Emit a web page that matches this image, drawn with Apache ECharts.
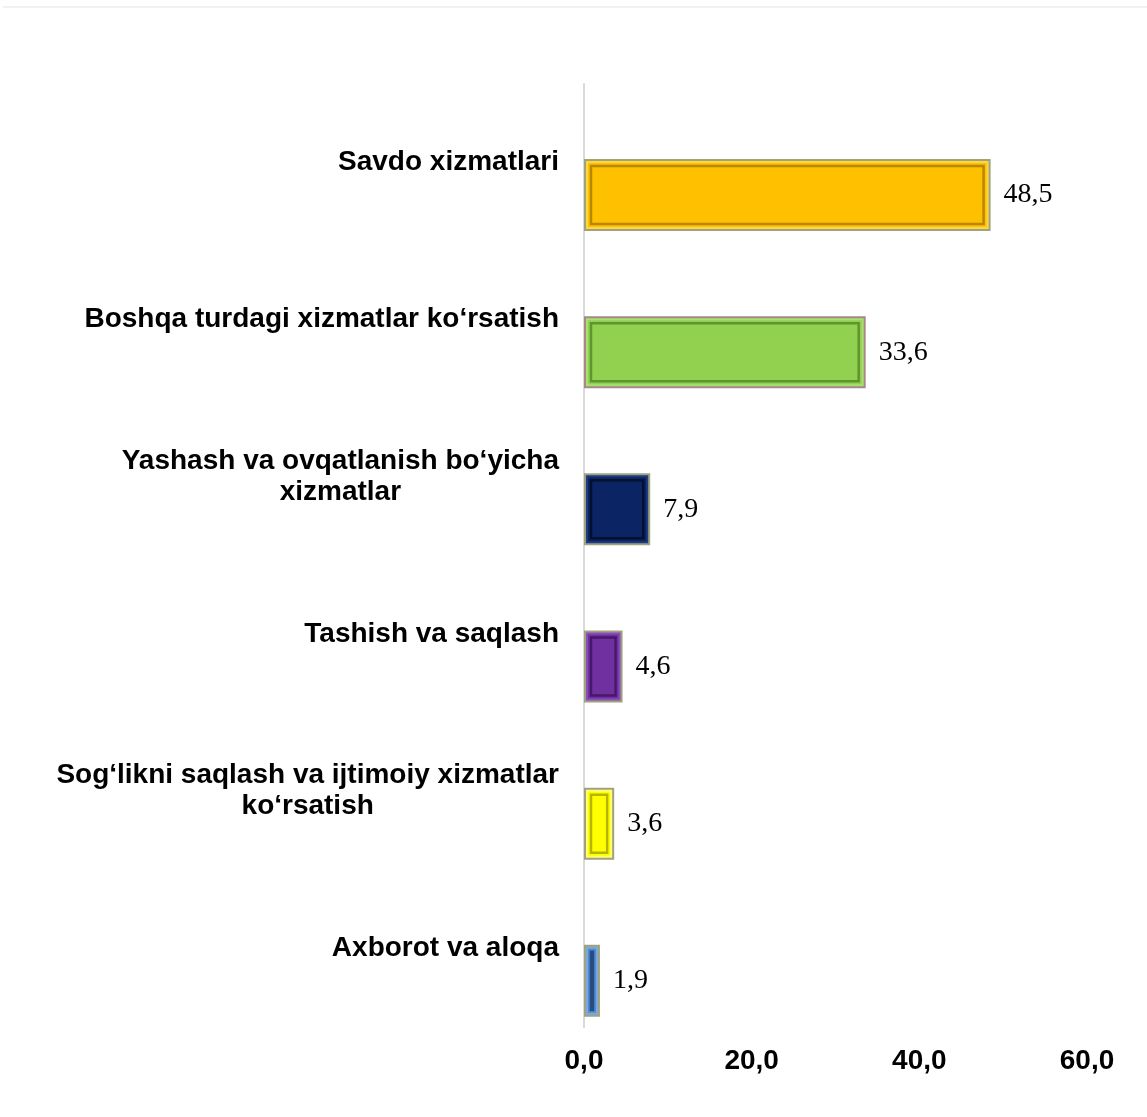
<!DOCTYPE html>
<html>
<head>
<meta charset="utf-8">
<script src="https://cdn.jsdelivr.net/npm/echarts@6/dist/echarts.min.js"></script>
<style>
html,body{margin:0;padding:0;background:#fff;}
#chart{width:1147px;height:1117px;}
</style>
</head>
<body>
<div id="chart"></div>
<script>
const categories = [
  "Savdo xizmatlari",
  "Boshqa turdagi xizmatlar ko‘rsatish",
  "Yashash va ovqatlanish bo‘yicha\nxizmatlar",
  "Tashish va saqlash",
  "Sog‘likni saqlash va ijtimoiy xizmatlar\nko‘rsatish",
  "Axborot va aloqa"
];
const values = [48.5, 33.6, 7.9, 4.6, 3.6, 1.9];
const barColors = ["#FFC000", "#92D050", "#0B2464", "#7030A0", "#FFFF00", "#5089D2"];
const edgeColors = ["#9EA37E", "#A6878A", "#9EA37E", "#9EA37E", "#9EA37E", "#9EA37E"];
const lightColors = ["#FFD640", "#A8E070", "#1E3A80", "#8A4CBC", "#FFFF70", "#7AA8E4"];
const innerColors = ["#B88600", "#5E9530", "#050F30", "#45196A", "#B5B500", "#274C7E"];
const xTicks = [0, 20, 40, 60];

const BAR_W = 72;
const GAP_PX = -7.2;
const chart = echarts.init(document.getElementById('chart'));
const fmt = v => v.toFixed(1).replace('.', ',');

chart.setOption({
  backgroundColor: '#fff',
  animation: false,
  graphic: [{
    type: 'line', shape: {x1: 3, y1: 7, x2: 1147, y2: 7},
    style: {stroke: '#e3e3e3', lineWidth: 1}
  }],
  grid: {left: 584, right: 60, top: 84, bottom: 90, containLabel: false},
  xAxis: {
    type: 'value', min: xTicks[0], max: xTicks[xTicks.length - 1], interval: 20,
    axisLine: {show: false}, axisTick: {show: false}, splitLine: {show: false},
    axisLabel: {
      formatter: v => fmt(v), margin: 20,
      fontFamily: 'Liberation Sans, Arial', fontWeight: 'bold', fontSize: 28, color: '#000'
    }
  },
  yAxis: {
    type: 'category', data: categories, inverse: true,
    axisLine: {show: true, lineStyle: {color: '#d9d9d9', width: 2}},
    axisTick: {show: false},
    axisLabel: {
      margin: 25,
      formatter: v => v.split('\n').map(s => '{c|' + s + '}').join('\n'),
      rich: {c: {align: 'center', fontFamily: 'Liberation Sans, Arial', fontWeight: 'bold', fontSize: 28, color: '#000', lineHeight: 31}}
    }
  },
  series: [
    {type: 'bar', name: 'spacer', data: values.map(() => null), barWidth: BAR_W, barGap: (GAP_PX / BAR_W * 100) + '%', silent: true},
    {
      type: 'bar', name: 'value', barWidth: BAR_W, barGap: (GAP_PX / BAR_W * 100) + '%',
      data: values.map((v, i) => ({
        value: v,
        itemStyle: {color: barColors[i], borderColor: edgeColors[i], borderWidth: 3}
      })),
      label: {
        show: true, position: 'right', distance: 13, formatter: p => fmt(p.value),
        fontFamily: 'Liberation Serif, Times New Roman', fontSize: 28, color: '#000'
      }
    },
    {
      type: 'custom', name: 'bevel', silent: true, z: 3,
      data: values.map((v, i) => [v, i]),
      encode: {x: 0, y: 1},
      renderItem: function (params, api) {
        const i = params.dataIndex;
        const v = api.value(0);
        const c = api.value(1);
        const x0 = api.coord([0, c])[0];
        const p = api.coord([v, c]);
        const yc = p[1] + (BAR_W + GAP_PX) / 2;
        const top = yc - BAR_W / 2, bottom = yc + BAR_W / 2;
        const w = p[0] - x0;
        const i1 = 3, i2 = 7;
        const children = [];
        children.push({
          type: 'rect',
          shape: {x: x0 + i1, y: top + i1, width: Math.max(w - 2 * i1, 0), height: BAR_W - 2 * i1},
          style: {fill: 'none', stroke: lightColors[i], lineWidth: 2}
        });
        if (w - 2 * i2 > 0) {
          children.push({
            type: 'rect',
            shape: {x: x0 + i2, y: top + i2, width: w - 2 * i2, height: BAR_W - 2 * i2},
            style: {fill: 'none', stroke: innerColors[i], lineWidth: 2.5}
          });
        } else {
          children.push({
            type: 'line',
            shape: {x1: x0 + w / 2, y1: top + i2, x2: x0 + w / 2, y2: bottom - i2},
            style: {stroke: innerColors[i], lineWidth: 2}
          });
        }
        return {type: 'group', children: children};
      }
    }
  ]
});
</script>
</body>
</html>
